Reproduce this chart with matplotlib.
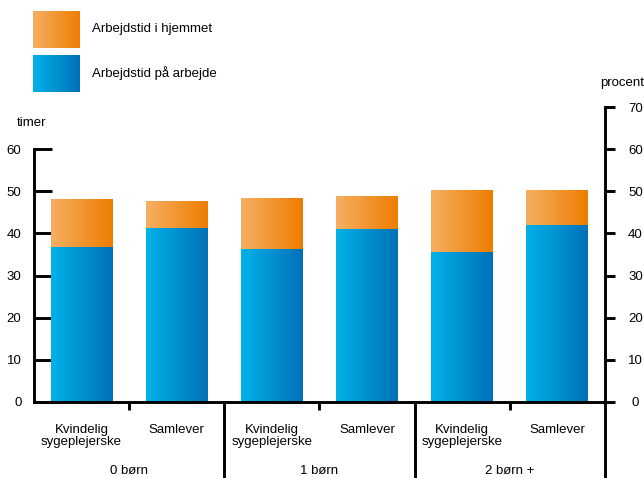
import numpy as np
import matplotlib.pyplot as plt
from matplotlib.colors import LinearSegmentedColormap
from matplotlib.transforms import blended_transform_factory

plt.rcParams['font.family'] = ['Liberation Sans Narrow', 'Liberation Sans', 'DejaVu Sans']

groups = ["0 børn", "1 børn", "2 børn +"]
persons = ["Kvindelig\nsygeplejerske", "Samlever"]
work_hours = [36.7, 41.2, 36.4, 41.0, 35.5, 42.0]   # arbejdstid på arbejde
home_hours = [11.2, 6.4, 11.9, 7.6, 14.7, 8.2]      # arbejdstid i hjemmet

orange = LinearSegmentedColormap.from_list("orange", ["#F5AF63", "#EE7D00"])
blue = LinearSegmentedColormap.from_list("blue", ["#00B2E9", "#0071B8"])
grad = np.linspace(0, 1, 256).reshape(1, -1)

fig = plt.figure(figsize=(6.44, 4.78), dpi=100)
ax = fig.add_axes([34 / 644, 76 / 478, 571 / 644, 295 / 478])

x = np.arange(len(work_hours))
width = 0.65
bars_work = ax.bar(x, work_hours, width, color="none")
bars_home = ax.bar(x, home_hours, width, bottom=work_hours, color="none")

# gradient fill for each bar segment
for bars, cmap in [(bars_work, blue), (bars_home, orange)]:
    for b in bars:
        x0, y0 = b.get_x(), b.get_y()
        ax.imshow(grad, cmap=cmap, aspect="auto", interpolation="bilinear",
                  extent=[x0, x0 + b.get_width(), y0, y0 + b.get_height()], zorder=2)

ax.set_xlim(-0.5, 5.5)
ax.set_ylim(0, 70)

lw = 2.1
for s in ["top", "right"]:
    ax.spines[s].set_visible(False)
ax.spines["left"].set_bounds(0, 60)
ax.spines["left"].set_linewidth(lw)
ax.spines["bottom"].set_linewidth(lw)

ax.set_yticks(range(0, 61, 10))
ax.tick_params(axis="y", direction="in", length=13, width=lw, pad=9, labelsize=9.5)
ax.set_xticks([0.5, 2.5, 4.5])
ax.set_xticklabels([])
ax.tick_params(axis="x", direction="out", length=6, width=lw)

ax2 = ax.twinx()
ax2.set_ylim(0, 70)
ax2.set_yticks(range(0, 71, 10))
for s in ["top", "left", "bottom"]:
    ax2.spines[s].set_visible(False)
ax2.spines["right"].set_linewidth(lw)
ax2.tick_params(axis="y", direction="out", length=7, width=lw, pad=15, labelsize=9.5)
for lab in ax2.get_yticklabels():
    lab.set_horizontalalignment("center")

# group dividers running down below the axis
trans = blended_transform_factory(ax.transData, ax.transAxes)
for xd in [1.5, 3.5, 5.5]:
    ax.plot([xd, xd], [0, -0.3], color="black", lw=lw, transform=trans, clip_on=False)

for i, xi in enumerate(x):
    ax.text(xi, -0.073, persons[i % 2], transform=trans, ha="center", va="top",
            fontsize=9.5, linespacing=1.1)
for g, name in enumerate(groups):
    ax.text(2 * g + 0.5, -0.215, name, transform=trans, ha="center", va="top", fontsize=9.5)

fig.text(17 / 644, 1 - 123 / 478, "timer", ha="left", va="center", fontsize=9.5)
fig.text(644 / 644, 1 - 83 / 478, "procent", ha="right", va="center", fontsize=9.5)

# legend with gradient swatches
legend_items = [("Arbejdstid i hjemmet", orange, 11), ("Arbejdstid på arbejde", blue, 55)]
for label, cmap, top in legend_items:
    lax = fig.add_axes([33 / 644, 1 - (top + 37) / 478, 47 / 644, 37 / 478])
    lax.imshow(grad, cmap=cmap, aspect="auto", interpolation="bilinear")
    lax.axis("off")
    fig.text(92 / 644, 1 - (top + 18) / 478, label, ha="left", va="center", fontsize=9.5)

fig.savefig("out.png", dpi=100)
